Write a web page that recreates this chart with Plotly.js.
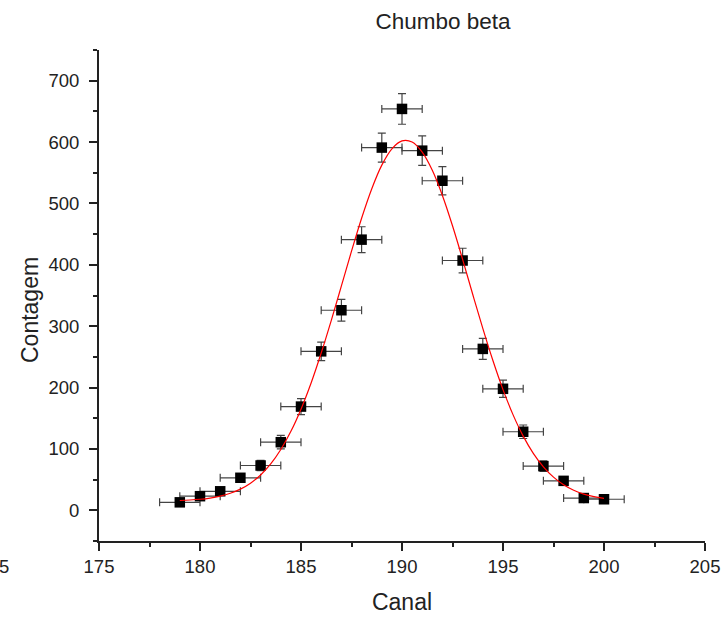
<!DOCTYPE html>
<html>
<head>
<meta charset="utf-8">
<script src="https://cdn.plot.ly/plotly-3.0.1.min.js"></script>
<style>html,body{margin:0;padding:0;background:#fff;}#chart{width:727px;height:617px;}</style>
</head>
<body>
<div id="chart"></div>
<script>
// Measured points
const canal = [179,180,181,182,183,184,185,186,187,188,189,190,191,192,193,194,195,196,197,198,199,200];
const contagem = [13,23,31,53,73,111,169,259,326,441,591,654,586,537,407,263,198,128,72,48,20,18];
const erroContagem = [4,5,6,7,8.5,11,13,15,17.7,21,23.6,25,24,23,20,17,14,11,8.5,7,4.5,4];
const erroCanal = [1,1,1,1,1,1,1,1,1,1,1,1,1,1,1,1,1,1,1,1,1,1];

// Fitted curve
const ajusteX = [179,179.5,180,180.5,181,181.5,182,182.5,183,183.5,184,184.5,185,185.5,186,186.5,187,187.5,188,188.5,189,189.5,190,190.5,191,191.5,192,192.5,193,193.5,194,194.5,195,195.5,196,196.5,197,197.5,198,198.5,199,199.5,200];
const ajusteY = [16,16.8,18,20,23.1,27.8,34.5,44.2,57.6,75.6,99.1,128.7,164.8,207.4,256.3,309.6,365.6,422.2,475.9,523.6,562.4,589,601.9,600.1,583.6,554,513,463.6,408.9,352,296.4,244,196.7,155.5,120.9,92.9,70.9,54,41.6,32.6,26.4,22.2,19.5];

const tituloGrafico = 'Chumbo beta';
const tituloX = 'Canal';
const tituloY = 'Contagem';

const fontFam = '"Liberation Sans", Arial, sans-serif';
const ink = '#222';

const traces = [
  {
    x: canal, y: contagem, type: 'scatter', mode: 'markers',
    marker: {symbol: 'square', size: 10.5, color: '#000'},
    error_y: {type: 'data', array: erroContagem, visible: true, color: '#444', thickness: 1.2, width: 4},
    error_x: {type: 'data', array: erroCanal, visible: true, color: '#444', thickness: 1.2, width: 4},
    showlegend: false, hoverinfo: 'x+y'
  },
  {
    x: ajusteX, y: ajusteY, type: 'scatter', mode: 'lines',
    line: {color: '#ff0000', width: 1.2, shape: 'spline'},
    showlegend: false, hoverinfo: 'skip'
  }
];

const axisCommon = {
  showline: true, linewidth: 2, linecolor: ink, mirror: false,
  showgrid: false, zeroline: false,
  ticks: 'outside', ticklen: 8, tickwidth: 2, tickcolor: ink,
  tickfont: {family: fontFam, size: 18.5, color: ink}
};

const layout = {
  width: 727, height: 617,
  margin: {l: 99, r: 22, t: 50, b: 76},
  paper_bgcolor: '#fff', plot_bgcolor: '#fff',
  font: {family: fontFam, color: ink},
  title: {text: tituloGrafico, font: {family: fontFam, size: 22.5, color: ink},
          x: 443/727, xanchor: 'center', xref: 'container', y: 1 - 21/617, yanchor: 'middle'},
  xaxis: Object.assign({}, axisCommon, {
    range: [175, 205], dtick: 5, tick0: 175,
    minor: {dtick: 2.5, tick0: 175, ticks: 'outside', ticklen: 4, tickwidth: 2, tickcolor: ink, showgrid: false},
    ticklabelstandoff: 0,
    title: {text: tituloX, font: {family: fontFam, size: 23, color: ink}, standoff: 18}
  }),
  yaxis: Object.assign({}, axisCommon, {
    range: [-50, 750], dtick: 100, tick0: 0,
    minor: {dtick: 50, tick0: 0, ticks: 'outside', ticklen: 4, tickwidth: 2, tickcolor: ink, showgrid: false},
    ticklabelstandoff: 6
  }),
  annotations: [
    {text: '5', xref: 'paper', yref: 'paper', x: -102/606, y: -25/491, xanchor: 'left', yanchor: 'middle',
     showarrow: false, font: {family: fontFam, size: 18.5, color: ink}},
    {text: tituloY, xref: 'paper', yref: 'paper', x: (30 - 99)/606, y: (541 - 310)/491,
     xanchor: 'center', yanchor: 'middle', textangle: -90, showarrow: false,
     font: {family: fontFam, size: 23, color: ink}}
  ]
};

Plotly.newPlot('chart', traces, layout, {staticPlot: true, displayModeBar: false});
</script>
</body>
</html>
